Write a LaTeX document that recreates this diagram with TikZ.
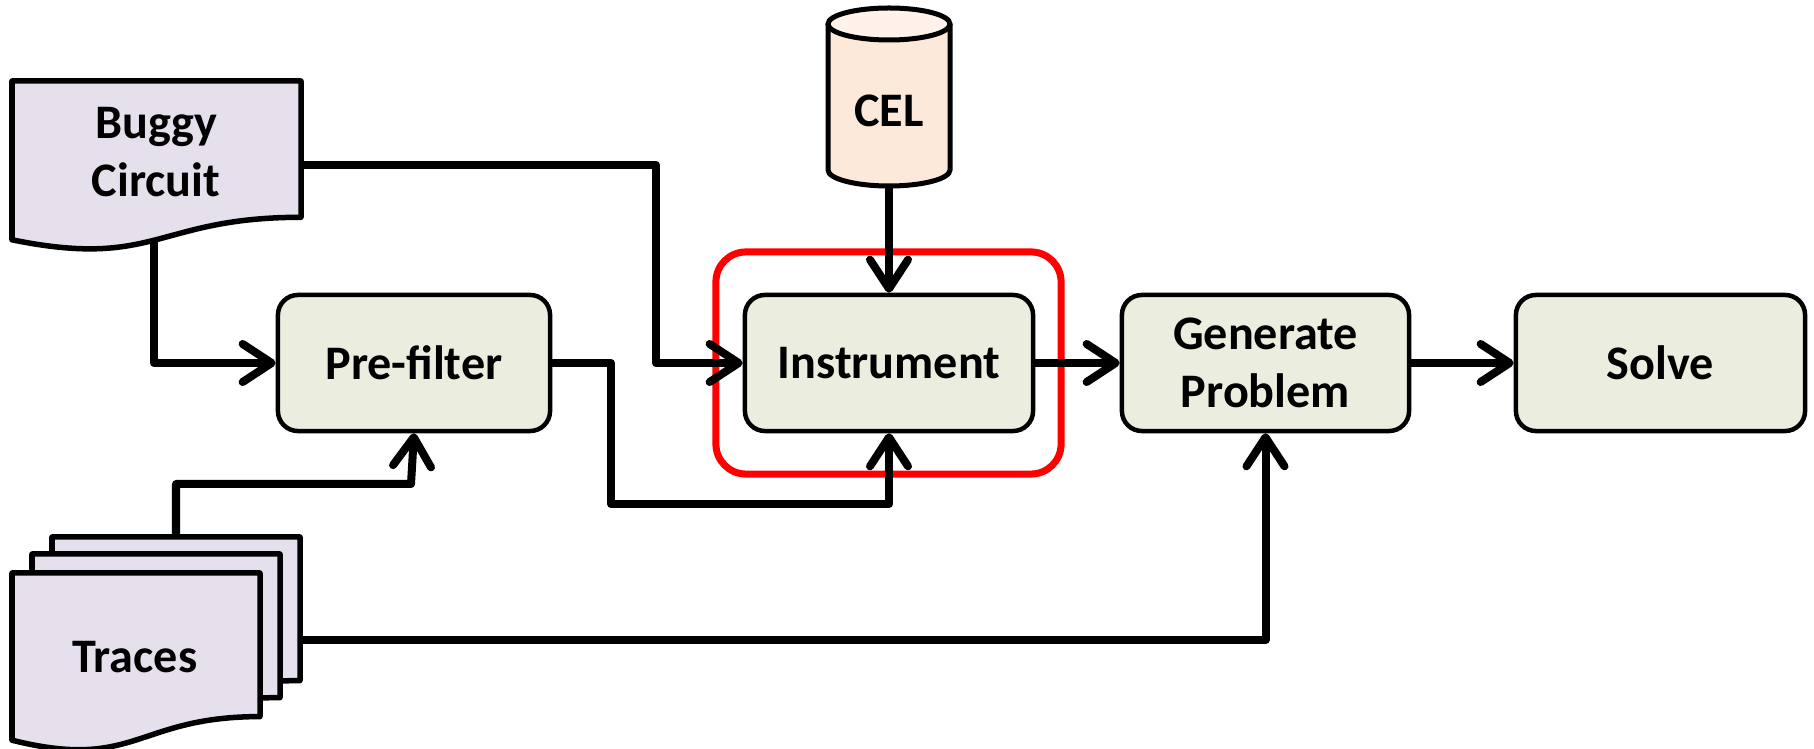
\documentclass[tikz,border=0pt]{standalone}
\usepackage{fontspec}
\setmainfont{Carlito}
\usetikzlibrary{arrows.meta}

\definecolor{stepfill}{HTML}{EBEEDF}
\definecolor{docfill}{HTML}{E5E0EC}
\definecolor{celbody}{HTML}{FDE9D9}
\definecolor{celtop}{HTML}{FEF2EA}
\definecolor{focusred}{HTML}{FF0000}

\begin{document}
\begin{tikzpicture}[x=0.01cm, y=-0.01cm,
  label text/.style={font=\fontsize{13.7}{16.5}\selectfont\bfseries, align=center, inner sep=0pt},
  stepbox/.style={label text, draw, line width=0.045cm, rounded corners=0.2cm,
    fill=stepfill, minimum height=1.36cm},
  docshape/.style={draw, fill=docfill, line width=0.055cm, line join=round},
  flow/.style={line width=0.08cm, line join=round,
    -{Straight Barb[length=0.29cm, width=0.38cm, line cap=round, line join=round]}},
]
\useasboundingbox (0,0) rectangle (1814,749);

% highlight around the instrumentation step
\node[draw=focusred, line width=0.07cm, rounded corners=0.3cm,
      minimum width=3.45cm, minimum height=2.22cm, inner sep=0pt] (focus) at (888.5,363) {};

% processing steps
\node[stepbox, minimum width=2.72cm] (prefilter)  at (414,363)  {Pre-filter};
\node[stepbox, minimum width=2.88cm] (instrument) at (889,363)  {Instrument};
\node[stepbox, minimum width=2.87cm] (generate)   at (1265.5,363) {Generate\\Problem};
\node[stepbox, minimum width=2.89cm] (solve)      at (1660.5,363) {Solve};

% CEL database cylinder
\fill[celbody] (828,24) -- (828,170) arc[start angle=180, end angle=0, x radius=61, y radius=16]
  -- (950,24) -- cycle;
\fill[celtop] (889,24) ellipse[x radius=61, y radius=16];
\draw[line width=0.05cm] (828,24) -- (828,170) arc[start angle=180, end angle=0, x radius=61, y radius=16]
  -- (950,24);
\draw[line width=0.05cm] (889,24) ellipse[x radius=61, y radius=16];
\node[label text, minimum width=1.22cm, minimum height=1.50cm] (cel) at (889,111) {CEL};

% connector end points on the documents
\coordinate (buggyR)  at (301,165);
\coordinate (buggyB)  at (154,232);
\coordinate (tracesT) at (176,545);
\coordinate (tracesR) at (295,640);

% connectors
\draw[flow] (buggyR) -- (656,165) |- (instrument.west);
\draw[flow] (buggyB) |- (prefilter.west);
\draw[flow] (prefilter.east) -| (611,504) -| (instrument.south);
\draw[flow] (cel.south) -- (instrument.north);
\draw[flow] (tracesT) |- (411,484) -- (prefilter.south);
\draw[flow] (tracesR) -| (generate.south);
\draw[flow] (instrument.east) -- (generate.west);
\draw[flow] (generate.east) -- (solve.west);

% buggy circuit document
\draw[docshape] (12,81) -- (301,81) -- (301,217.3)
  .. controls (156.5,217.3) and (156.5,269.3) .. (12,239.8) -- cycle;
\node[label text] (buggy) at (156,152) {Buggy\\Circuit};

% stack of trace documents
\draw[docshape] (52,537) -- (300,537) -- (300,680.6)
  .. controls (176,680.6) and (176,735.2) .. (52,704.2) -- cycle;
\draw[docshape] (32,554) -- (280,554) -- (280,697.6)
  .. controls (156,697.6) and (156,752.2) .. (32,721.2) -- cycle;
\draw[docshape] (12,573) -- (260,573) -- (260,716.6)
  .. controls (136,716.6) and (136,771.2) .. (12,740.2) -- cycle;
\node[label text] (traces) at (135,657) {Traces};
\end{tikzpicture}
\end{document}
